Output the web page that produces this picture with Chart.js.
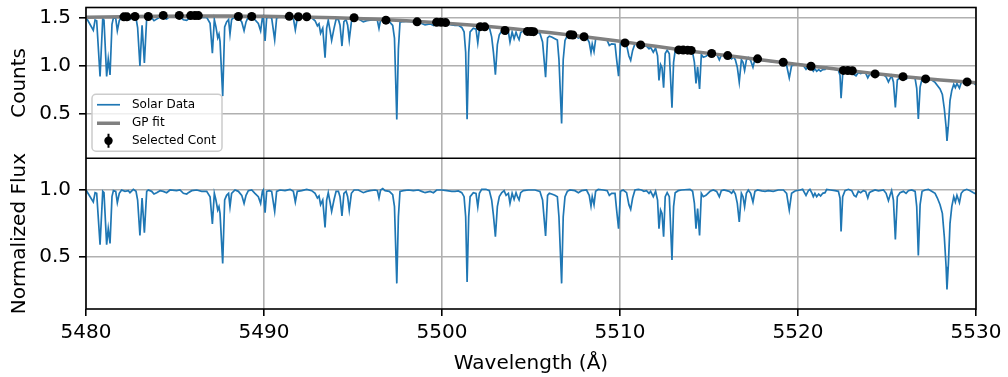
<!DOCTYPE html>
<html>
<head>
<meta charset="utf-8">
<script src="https://cdn.jsdelivr.net/npm/chart.js@4.4.1/dist/chart.umd.min.js"></script>
<style>
  html, body { margin: 0; padding: 0; background: #fff; }
  #spec { display: block; }
</style>
</head>
<body>
<canvas id="spec" width="1008" height="377"></canvas>
<script>
// === Data ===
const wave = [
  5480.00,5480.41,5480.51,5480.60,5480.79,5480.94,5481.01,5481.16,5481.25,5481.35,
  5481.46,5481.54,5481.67,5481.76,5481.87,5482.00,5482.19,5482.38,5482.47,5482.66,
  5482.81,5482.90,5483.03,5483.15,5483.28,5483.41,5483.50,5483.69,5483.82,5483.97,
  5484.16,5484.34,5484.53,5484.72,5485.09,5485.28,5485.47,5485.66,5485.75,5485.94,
  5486.22,5486.50,5486.78,5486.97,5487.10,5487.21,5487.30,5487.40,5487.47,5487.53,
  5487.68,5487.79,5487.90,5488.01,5488.09,5488.18,5488.37,5488.56,5488.75,5488.88,
  5488.99,5489.12,5489.31,5489.49,5489.68,5489.81,5489.91,5489.96,5490.06,5490.15,
  5490.30,5490.43,5490.60,5490.71,5490.90,5491.18,5491.46,5491.65,5491.76,5491.87,
  5492.12,5492.40,5492.68,5492.87,5493.00,5493.09,5493.18,5493.30,5493.43,5493.52,
  5493.61,5493.71,5493.80,5493.93,5494.05,5494.18,5494.27,5494.38,5494.49,5494.61,
  5494.70,5494.79,5494.91,5495.06,5495.30,5495.58,5495.77,5495.96,5496.24,5496.37,
  5496.46,5496.55,5496.67,5496.80,5497.04,5497.23,5497.33,5497.46,5497.55,5497.64,
  5497.83,5498.11,5498.39,5498.67,5498.86,5499.05,5499.33,5499.52,5499.70,5499.98,
  5500.27,5500.55,5500.73,5500.92,5501.11,5501.24,5501.33,5501.41,5501.50,5501.58,
  5501.76,5501.91,5502.01,5502.10,5502.23,5502.47,5502.66,5502.79,5502.89,5503.00,
  5503.11,5503.22,5503.36,5503.49,5503.60,5503.73,5503.82,5503.94,5504.05,5504.16,
  5504.24,5504.33,5504.42,5504.57,5504.85,5505.22,5505.50,5505.65,5505.82,5505.93,
  5506.03,5506.16,5506.34,5506.48,5506.57,5506.72,5506.81,5506.91,5507.04,5507.19,
  5507.47,5507.66,5507.84,5508.12,5508.27,5508.37,5508.44,5508.54,5508.63,5508.78,
  5509.06,5509.28,5509.40,5509.53,5509.72,5509.81,5509.92,5510.03,5510.18,5510.37,
  5510.50,5510.60,5510.71,5510.84,5511.03,5511.21,5511.34,5511.49,5511.63,5511.72,
  5511.87,5512.00,5512.11,5512.19,5512.28,5512.36,5512.45,5512.54,5512.65,5512.77,
  5512.82,5512.92,5513.01,5513.10,5513.27,5513.46,5513.93,5514.08,5514.18,5514.27,
  5514.36,5514.47,5514.57,5514.68,5514.83,5515.06,5515.24,5515.43,5515.58,5515.69,
  5515.84,5515.99,5516.14,5516.27,5516.37,5516.48,5516.59,5516.70,5516.82,5516.91,
  5517.00,5517.10,5517.21,5517.34,5517.47,5517.58,5517.73,5517.96,5518.15,5518.33,
  5518.61,5518.89,5519.18,5519.36,5519.51,5519.64,5519.83,5520.11,5520.26,5520.45,
  5520.58,5520.67,5520.79,5520.86,5520.95,5521.05,5521.16,5521.27,5521.39,5521.52,
  5521.61,5521.83,5522.08,5522.27,5522.36,5522.42,5522.51,5522.64,5522.83,5523.02,
  5523.15,5523.26,5523.39,5523.52,5523.67,5523.80,5523.92,5524.01,5524.14,5524.33,
  5524.52,5524.80,5524.95,5525.08,5525.17,5525.26,5525.36,5525.47,5525.58,5525.73,
  5525.92,5526.07,5526.20,5526.39,5526.58,5526.67,5526.76,5526.86,5526.97,5527.14,
  5527.32,5527.51,5527.70,5527.83,5527.98,5528.11,5528.22,5528.32,5528.37,5528.45,
  5528.54,5528.64,5528.75,5528.84,5528.93,5529.07,5529.17,5529.29,5529.48,5529.67,
  5529.86,5530.00
];

// raw counts (top panel)
const counts = [
  1.503,1.368,1.474,1.466,0.887,1.489,1.474,0.888,1.068,0.903,
  1.429,1.497,1.490,1.362,1.467,1.508,1.493,1.501,1.479,1.517,
  1.494,1.396,0.997,1.420,1.027,1.497,1.512,1.497,1.467,1.483,
  1.506,1.499,1.484,1.514,1.507,1.515,1.477,1.470,1.485,1.508,
  1.516,1.501,1.501,1.440,1.129,1.478,1.402,1.289,1.327,1.251,
  0.682,1.402,1.455,1.478,1.327,1.477,1.515,1.500,1.454,1.363,
  1.454,1.507,1.514,1.476,1.437,1.361,1.497,1.512,1.255,1.497,
  1.504,1.496,1.269,1.496,1.509,1.501,1.515,1.492,1.371,1.491,
  1.498,1.512,1.497,1.466,1.413,1.435,1.337,1.389,1.081,1.389,
  1.471,1.366,1.261,1.385,1.482,1.480,1.420,1.203,1.457,1.479,
  1.419,1.269,1.455,1.488,1.486,1.454,1.467,1.473,1.478,1.469,
  1.387,1.475,1.489,1.466,1.457,1.418,1.285,0.440,1.174,1.452,
  1.458,1.461,1.451,1.456,1.439,1.423,1.434,1.417,1.448,1.445,
  1.433,1.422,1.419,1.418,1.397,1.352,1.138,0.441,1.137,1.350,
  1.388,1.378,1.235,1.375,1.415,1.411,1.398,1.299,1.137,0.906,
  1.218,1.321,1.361,1.380,1.331,1.350,1.245,1.349,1.279,1.346,
  1.305,1.270,1.344,1.362,1.361,1.354,1.336,1.246,0.880,1.287,
  1.306,1.297,1.280,1.265,1.064,0.398,1.063,1.261,1.312,1.324,
  1.312,1.286,1.299,1.297,1.242,1.136,1.224,1.145,1.272,1.287,
  1.274,1.262,1.210,1.226,1.222,1.064,0.889,1.237,1.245,1.215,
  1.100,1.055,1.158,1.227,1.228,1.217,1.201,1.203,1.175,1.190,
  1.139,1.183,1.103,0.846,1.010,0.979,0.770,1.125,1.160,1.123,
  0.945,0.561,1.033,1.156,1.173,1.162,1.156,1.137,1.033,0.814,
  0.986,0.756,1.116,1.087,1.097,1.129,1.133,1.119,1.060,1.109,
  1.109,1.100,1.091,1.071,1.091,1.061,0.983,0.828,1.061,1.033,
  0.950,1.057,1.083,1.054,0.983,1.068,1.068,1.055,1.048,1.049,
  1.036,1.040,1.033,1.003,0.871,0.999,1.009,1.009,1.011,0.961,
  0.993,1.001,0.969,0.943,0.967,0.940,0.958,0.941,0.958,0.960,
  0.983,0.970,0.959,0.950,0.900,0.660,0.908,0.949,0.955,0.941,
  0.906,0.894,0.929,0.917,0.928,0.922,0.873,0.904,0.911,0.917,
  0.906,0.907,0.882,0.830,0.864,0.894,0.830,0.564,0.850,0.874,
  0.876,0.861,0.876,0.877,0.865,0.764,0.445,0.776,0.862,0.865,
  0.866,0.849,0.825,0.793,0.757,0.700,0.551,0.360,0.216,0.382,
  0.636,0.742,0.805,0.771,0.813,0.766,0.824,0.840,0.847,0.837,
  0.822,0.797
];

// normalized flux (bottom panel)
const flux = [
  1.00,0.91,0.98,0.975,0.59,0.99,0.98,0.59,0.71,0.60,
  0.95,0.995,0.99,0.905,0.975,1.00,0.99,0.995,0.98,1.005,
  0.99,0.925,0.66,0.94,0.68,0.99,1.00,0.99,0.97,0.98,
  0.995,0.99,0.98,1.00,0.995,1.00,0.975,0.97,0.98,0.995,
  1.00,0.99,0.99,0.95,0.745,0.975,0.925,0.85,0.875,0.825,
  0.45,0.925,0.96,0.975,0.875,0.975,1.00,0.99,0.96,0.90,
  0.96,0.995,1.00,0.975,0.95,0.90,0.99,1.00,0.83,0.99,
  0.995,0.99,0.84,0.99,1.00,0.995,1.005,0.99,0.91,0.99,
  0.995,1.005,0.995,0.975,0.94,0.955,0.89,0.925,0.72,0.925,
  0.98,0.91,0.84,0.925,0.99,0.99,0.95,0.805,0.975,0.99,
  0.95,0.85,0.975,1.00,1.00,0.98,0.99,0.995,1.00,0.995,
  0.94,1.00,1.01,0.995,0.99,0.965,0.875,0.30,0.80,0.99,
  0.995,1.00,0.995,1.00,0.99,0.98,0.99,0.98,1.00,1.00,
  0.995,0.99,0.99,0.993,0.98,0.95,0.80,0.31,0.80,0.95,
  0.98,0.975,0.875,0.975,1.005,1.005,0.995,0.925,0.81,0.65,
  0.875,0.95,0.98,0.995,0.96,0.975,0.90,0.975,0.93,0.98,
  0.95,0.925,0.98,0.995,1.00,1.00,0.99,0.925,0.655,0.96,
  0.975,0.97,0.96,0.95,0.80,0.30,0.80,0.95,0.99,1.00,
  0.995,0.98,0.995,1.00,0.96,0.88,0.95,0.89,0.99,1.005,
  1.00,0.995,0.96,0.975,0.975,0.85,0.71,0.99,1.00,0.98,
  0.89,0.855,0.94,1.00,1.005,1.00,0.99,0.995,0.975,0.99,
  0.95,0.99,0.925,0.71,0.85,0.825,0.65,0.95,0.98,0.95,
  0.80,0.475,0.875,0.98,0.995,1.00,1.005,0.99,0.90,0.71,
  0.86,0.66,0.975,0.95,0.96,0.99,1.00,0.99,0.95,0.995,
  1.00,0.995,0.99,0.975,0.995,0.97,0.90,0.76,0.975,0.95,
  0.875,0.975,1.00,0.975,0.91,0.99,1.00,0.993,0.99,0.995,
  0.99,1.00,1.00,0.975,0.85,0.975,0.993,1.00,1.005,0.96,
  0.995,1.005,0.975,0.95,0.975,0.95,0.97,0.955,0.975,0.98,
  1.005,1.00,0.995,0.99,0.94,0.69,0.95,0.995,1.005,0.995,
  0.96,0.95,0.99,0.98,0.995,0.99,0.94,0.98,0.99,1.00,
  0.993,1.00,0.975,0.92,0.96,0.995,0.925,0.63,0.95,0.98,
  0.99,0.975,0.995,1.00,0.99,0.875,0.51,0.89,0.99,1.00,
  1.005,0.99,0.975,0.94,0.89,0.825,0.65,0.425,0.255,0.45,
  0.75,0.875,0.95,0.91,0.96,0.905,0.975,0.995,1.005,0.995,
  0.98,0.97
];

// GP continuum fit
const gpWave = [5480,5482,5484,5486,5488,5490,5492,5494,5496,5498,5500,5502,5504,
                5506,5508,5510,5512,5514,5516,5518,5520,5522,5524,5526,5528,5530];
const gpFit = [1.503,1.508,1.513,1.516,1.516,1.512,1.506,1.497,1.484,1.466,1.444,1.416,1.382,
               1.343,1.300,1.252,1.200,1.150,1.104,1.058,1.012,0.967,0.924,0.884,0.850,0.822];

// selected continuum points
const contWave = [5482.13,5482.30,5482.75,5483.50,5484.34,5485.24,5485.88,5486.12,5486.31,5488.56,
                  5489.31,5491.42,5491.93,5492.40,5495.06,5496.85,5498.60,5499.70,5499.95,5500.20,
                  5502.15,5502.40,5503.54,5504.80,5505.00,5505.15,5507.20,5507.35,5507.98,5510.28,
                  5511.16,5513.30,5513.55,5513.80,5514.00,5515.15,5516.05,5517.73,5519.17,5520.73,
                  5522.55,5522.80,5523.05,5524.33,5525.90,5527.17,5529.50];
const contCounts = [1.507,1.507,1.510,1.510,1.522,1.522,1.520,1.520,1.520,1.510,
                    1.510,1.512,1.508,1.508,1.497,1.472,1.455,1.450,1.450,1.447,
                    1.405,1.403,1.365,1.355,1.354,1.353,1.320,1.318,1.300,1.236,
                    1.215,1.163,1.161,1.160,1.158,1.125,1.104,1.070,1.035,0.993,
                    0.950,0.948,0.946,0.913,0.885,0.861,0.830];

const xTicks = [5480, 5490, 5500, 5510, 5520, 5530];
const countTicks = [0.5, 1.0, 1.5];
const fluxTicks = [0.5, 1.0];

const BLUE = "#1f77b4";
const GRID = "#b0b0b0";
const toXY = (xs, ys) => xs.map((x, i) => ({ x, y: ys[i] }));

Chart.defaults.font.family = "'DejaVu Sans', sans-serif";
Chart.defaults.color = "#000";

// === frame around both panels ===
const panelFrame = {
  id: "panelFrame",
  afterDatasetsDraw(chart) {
    const { ctx, chartArea: a, scales } = chart;
    ctx.save();
    ctx.strokeStyle = "#000";
    ctx.lineWidth = 1.6;
    ctx.strokeRect(a.left, a.top, a.right - a.left, a.bottom - a.top);
    ctx.beginPath();
    ctx.moveTo(a.left, scales.yBot.top);
    ctx.lineTo(a.right, scales.yBot.top);
    ctx.stroke();
    ctx.restore();
  }
};

// === matplotlib-like legend inside the top panel ===
const boxLegend = {
  id: "boxLegend",
  afterDraw(chart) {
    const { ctx, chartArea: a, scales } = chart;
    const left = a.left + 6, bottom = scales.yTop.bottom - 7;
    const w = 130, h = 57, top = bottom - h;
    ctx.save();
    ctx.beginPath();
    if (ctx.roundRect) ctx.roundRect(left, top, w, h, 4); else ctx.rect(left, top, w, h);
    ctx.fillStyle = "rgba(255,255,255,0.8)";
    ctx.fill();
    ctx.strokeStyle = "#cccccc";
    ctx.lineWidth = 1.5;
    ctx.stroke();

    const hx0 = left + 5, hx1 = left + 28, tx = left + 40;
    const rows = [top + 10.5, top + 29, top + 46.5];
    ctx.lineCap = "butt";
    // Solar Data
    ctx.strokeStyle = BLUE; ctx.lineWidth = 1.7;
    ctx.beginPath(); ctx.moveTo(hx0, rows[0]); ctx.lineTo(hx1, rows[0]); ctx.stroke();
    // GP fit
    ctx.strokeStyle = "#808080"; ctx.lineWidth = 3.5;
    ctx.beginPath(); ctx.moveTo(hx0, rows[1]); ctx.lineTo(hx1, rows[1]); ctx.stroke();
    // Selected Cont (errorbar marker)
    const mx = (hx0 + hx1) / 2;
    ctx.strokeStyle = "#000"; ctx.lineWidth = 2;
    ctx.beginPath(); ctx.moveTo(mx, rows[2] - 7); ctx.lineTo(mx, rows[2] + 7); ctx.stroke();
    ctx.fillStyle = "#000";
    ctx.beginPath(); ctx.arc(mx, rows[2], 4.2, 0, Math.PI * 2); ctx.fill();

    ctx.fillStyle = "#000";
    ctx.font = "12px 'DejaVu Sans', sans-serif";
    ctx.textBaseline = "middle";
    ctx.textAlign = "left";
    ["Solar Data", "GP fit", "Selected Cont"].forEach((t, i) => ctx.fillText(t, tx, rows[i]));
    ctx.restore();
  }
};

const yAxis = (lo, hi, tickVals, title) => ({
  type: "linear",
  position: "left",
  stack: "panels",
  stackWeight: 1,
  min: lo,
  max: hi,
  afterBuildTicks: s => { s.ticks = tickVals.map(v => ({ value: v })); },
  afterFit: s => { s.width = 86; s.paddingTop = 0; s.paddingBottom = 0; },
  ticks: { font: { size: 20 }, color: "#000", padding: 8, callback: v => v.toFixed(1) },
  grid: { color: GRID, lineWidth: 1.6, tickColor: "#000", tickWidth: 1.6, tickLength: 7 },
  border: { display: false },
  title: { display: true, text: title, font: { size: 20 }, color: "#000", padding: { top: 8, bottom: 0 } }
});

new Chart(document.getElementById("spec").getContext("2d"), {
  type: "line",
  data: {
    datasets: [
      {
        label: "Selected Cont",
        type: "scatter",
        data: toXY(contWave, contCounts),
        yAxisID: "yTop",
        showLine: false,
        pointRadius: 4.5,
        pointBackgroundColor: "#000",
        pointBorderWidth: 0,
        order: 0
      },
      {
        label: "GP fit",
        data: toXY(gpWave, gpFit),
        yAxisID: "yTop",
        borderColor: "#808080",
        borderWidth: 3.5,
        pointRadius: 0,
        cubicInterpolationMode: "monotone",
        fill: false,
        order: 1
      },
      {
        label: "Solar Data",
        data: toXY(wave, counts),
        yAxisID: "yTop",
        borderColor: BLUE,
        borderWidth: 1.7,
        pointRadius: 0,
        tension: 0,
        fill: false,
        order: 2
      },
      {
        label: "Normalized",
        data: toXY(wave, flux),
        yAxisID: "yBot",
        borderColor: BLUE,
        borderWidth: 1.7,
        pointRadius: 0,
        tension: 0,
        fill: false,
        order: 3
      }
    ]
  },
  options: {
    responsive: false,
    animation: false,
    events: [],
    layout: { padding: { top: 7.5, right: 32, left: 0, bottom: 0 } },
    plugins: { legend: { display: false }, tooltip: { enabled: false } },
    scales: {
      x: {
        type: "linear",
        position: "bottom",
        min: 5480,
        max: 5530,
        afterBuildTicks: s => { s.ticks = xTicks.map(v => ({ value: v })); },
        afterFit: s => { s.height = 68; s.paddingLeft = 0; s.paddingRight = 0; },
        ticks: { font: { size: 20 }, color: "#000", padding: 5, autoSkip: false, maxRotation: 0, callback: v => String(v) },
        grid: { color: GRID, lineWidth: 1.6, tickColor: "#000", tickWidth: 1.6, tickLength: 7 },
        border: { display: false },
        title: { display: true, text: "Wavelength (Å)", font: { size: 20 }, color: "#000", padding: { top: 0, bottom: 1 } }
      },
      yBot: yAxis(0.108, 1.238, fluxTicks, "Normalized Flux"),
      yTop: yAxis(0.036, 1.604, countTicks, "Counts")
    }
  },
  plugins: [panelFrame, boxLegend]
});
</script>
</body>
</html>
